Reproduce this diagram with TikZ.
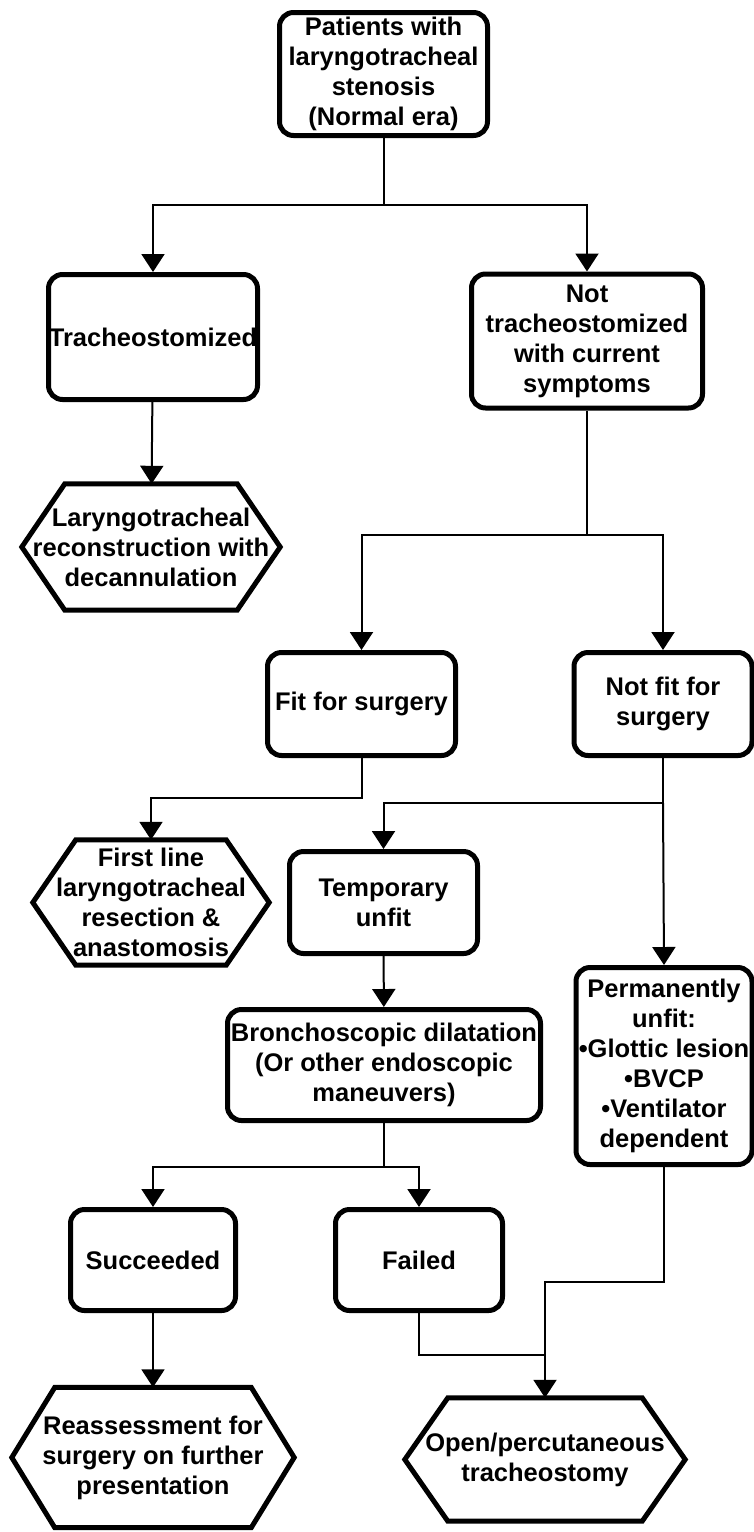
\documentclass[tikz,border=0pt]{standalone}
\usepackage{fontspec}
\setmainfont{Liberation Sans}
\usetikzlibrary{arrows.meta,calc}

\newcommand{\hexframe}[1]{\draw[line width=5pt, line join=miter] (#1.west) -- ([xshift=43pt]#1.north west) -- ([xshift=-43pt]#1.north east) -- (#1.east) -- ([xshift=-43pt]#1.south east) -- ([xshift=43pt]#1.south west) -- cycle;}

\begin{document}
\begin{tikzpicture}[x=1pt, y=-1pt, box/.style={draw, rounded corners=14pt, line width=5pt, align=center, inner sep=0pt, font=\bfseries\fontsize{25.5}{30}\selectfont}, hexbox/.style={align=center, inner sep=0pt, font=\bfseries\fontsize{25.5}{30}\selectfont}, myto/.style={-{Triangle[length=18pt,width=23pt]}, line width=2pt}, link/.style={line width=2pt}]
\useasboundingbox (0,0) rectangle (754,1532);
\node[box, minimum width=208pt, minimum height=123pt] (start) at (383.5,74){Patients with\\laryngotracheal\\stenosis\\(Normal era)};
\node[box, minimum width=209pt, minimum height=125pt] (trach) at (153,337){Tracheostomized};
\node[box, minimum width=231pt, minimum height=134pt] (notrach) at (587,341){Not\\tracheostomized\\with current\\symptoms};
\node[hexbox, minimum width=258pt, minimum height=126pt] (recon) at (151,547){Laryngotracheal\\reconstruction with\\decannulation};
\node[box, minimum width=188pt, minimum height=103pt] (fit) at (361.5,704){Fit for surgery};
\node[box, minimum width=178pt, minimum height=103pt] (notfit) at (663,704){Not fit for\\surgery};
\node[hexbox, minimum width=236pt, minimum height=125pt] (resect) at (151,902.5){First line\\laryngotracheal\\resection \&\\anastomosis};
\node[box, minimum width=188pt, minimum height=102pt] (temp) at (383.5,902.5){Temporary\\unfit};
\node[box, minimum width=313pt, minimum height=111pt] (broncho) at (384,1065){Bronchoscopic dilatation\\(Or other endoscopic\\maneuvers)};
\node[box, minimum width=176pt, minimum height=197pt] (perm) at (664,1066){Permanently\\unfit:\\•Glottic lesion\\•BVCP\\•Ventilator\\dependent};
\node[box, minimum width=165pt, minimum height=101pt] (succ) at (153,1260){Succeeded};
\node[box, minimum width=167pt, minimum height=101pt] (failed) at (419,1260){Failed};
\node[hexbox, minimum width=282pt, minimum height=140pt] (reassess) at (153,1457.5){Reassessment for\\surgery on further\\presentation};
\node[hexbox, minimum width=280pt, minimum height=123pt] (tracheo) at (545,1459.5){Open/percutaneous\\tracheostomy};
\foreach \h in {recon,resect,reassess,tracheo}{\hexframe{\h}}
% junctions
\coordinate (j1) at (383.5,205);
\coordinate (j2) at (587,535);
\coordinate (j3) at (361.5,798);
\coordinate (j4) at (663,803);
\coordinate (j5) at (384,1167);
\coordinate (j6) at (545,1282);
\coordinate (j7) at (545,1355);
\draw[link] (start.south) -- (j1);
\draw[myto] (j1) -| (trach.north);
\draw[myto] (j1) -| (notrach.north);
\draw[link] (notrach.south) -- (j2);
\draw[myto] (j2) -| (fit.north);
\draw[myto] (j2) -| (notfit.north);
\draw[myto] (fit.south) -- (j3) -| (resect.north);
\draw[link] (notfit.south) -- (j4);
\draw[myto] (j4) -| (temp.north);
\draw[myto] (j4) -- (perm.north);
\draw[link] (broncho.south) -- (j5);
\draw[myto] (j5) -| (succ.north);
\draw[myto] (j5) -| (failed.north);
\draw[link] (failed.south) |- (j7);
\draw[myto] (perm.south) |- (j6) -- (tracheo.north);
\foreach \i/\j in {trach/recon,temp/broncho,succ/reassess}{\draw[myto] (\i) -- (\j);}
\end{tikzpicture}
\end{document}
